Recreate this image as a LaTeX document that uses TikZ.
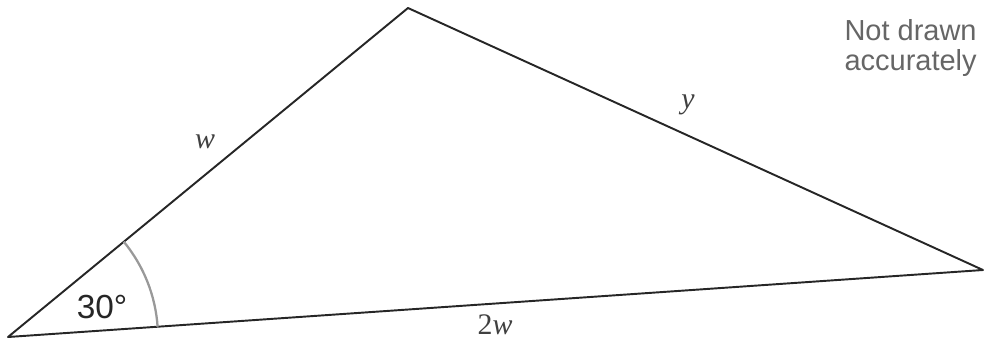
\documentclass[tikz,border=0pt]{standalone}
\usepackage{fontspec}
\setmainfont{Liberation Serif}
\setsansfont{Liberation Sans}
\usepackage{tikz}
\usetikzlibrary{angles}
\tikzset{
  side/.style = {draw=black!85, line width=1.1pt},% cotes du triangle
  sidelabel/.style = {font=\fontsize{17}{17}\selectfont\itshape, text=black!75},
  anglelabel/.style = {font=\sffamily\fontsize{19}{19}\selectfont, text=black!85},
  notelabel/.style = {font=\sffamily\fontsize{16.5}{17}\selectfont, text=black!60,
    align=left, inner sep=0pt}
}
\begin{document}
\begin{tikzpicture}[x=0.02cm, y=0.02cm]
  \useasboundingbox (0,0) rectangle (984,343);
  \coordinate (A) at (8,6);
  \coordinate (B) at (408,335);
  \coordinate (C) at (983,73);
  \draw [side, line join=round] (A) -- (B) -- (C) -- cycle;
  \pic [draw=black!40, line width=1.3pt, angle radius=3cm] {angle = C--A--B};
  \node [sidelabel] (lw) at (205,201) {w};
  \node [sidelabel] (ly) at (688,238) {y};
  \node [sidelabel, font=\fontsize{17}{17}\selectfont] (l2w) at (495,18) {2\textit{w}};
  \node [anglelabel] (lang) at (102,36) {30°};
  \node [notelabel, anchor=north east] (note) at (977,324) {Not drawn\\accurately};
\end{tikzpicture}
\end{document}
